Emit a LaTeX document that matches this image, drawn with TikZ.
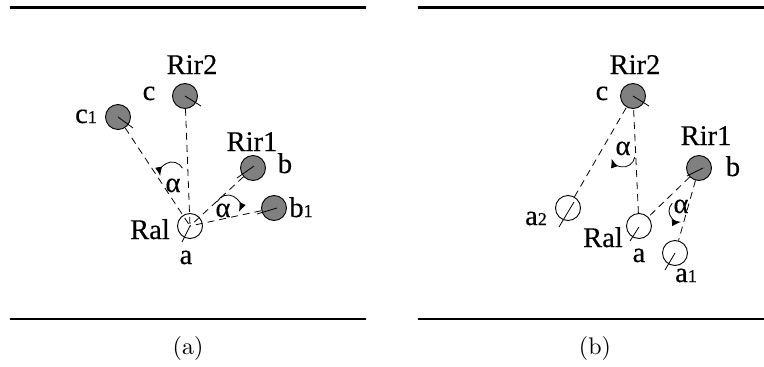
\documentclass[tikz,border=0pt]{standalone}
\usepackage{fontspec}
\usetikzlibrary{arrows.meta}
\newfontfamily\labfont[FakeBold=0.3]{Liberation Serif}
\newcommand{\subsz}[1]{{\fontsize{18}{18}\selectfont #1}}
\newcommand{\capsz}[1]{\scalebox{2.4}{\fontsize{10}{12}\selectfont #1}}
\begin{document}
\begin{tikzpicture}[x=1pt,y=-1pt,
  robot/.style={circle,draw,line width=0.9pt,minimum size=25pt,inner sep=0pt},
  irr/.style={robot,fill=black!50},
  alr/.style={robot,fill=white},
  lab/.style={font=\labfont\fontsize{28.5}{32}\selectfont,inner sep=0pt,anchor=base},
  captext/.style={inner sep=0pt,anchor=base},
  conn/.style={dash pattern=on 7pt off 5pt,line width=0.8pt},
  orient/.style={line width=0.8pt},
  angarc/.style={line width=0.8pt,-{Latex[length=9pt,width=7pt]}},
  rulebar/.style={line width=2.5pt}]
\useasboundingbox (0,0) rectangle (764,367);

% rules
\coordinate (tal) at (10,7.5);  \coordinate (tar) at (366,7.5);
\coordinate (bal) at (10,319);  \coordinate (bar) at (366,319);
\coordinate (tbl) at (418,7.5); \coordinate (tbr) at (764,7.5);
\coordinate (bbl) at (418,319); \coordinate (bbr) at (764,319);
\draw[rulebar] (tal) -- (tar);
\draw[rulebar] (bal) -- (bar);
\draw[rulebar] (tbl) -- (tbr);
\draw[rulebar] (bbl) -- (bbr);

% ---------- panel (a)
\node[irr] (c2a) at (185,96) {};
\node[irr] (c1a) at (118,117) {};
\node[irr] (b0a) at (253,168) {};
\node[irr] (b1a) at (274,208) {};
\node[alr] (ra) at (190,226) {};

\draw[conn] (c2a) -- (ra.center);
\draw[conn] (c1a) -- (ra.center);
\draw[conn] (b0a) -- (ra.center);
\draw[conn] (b1a) -- (ra.center);

\draw[orient] (c2a.center) -- ++(16,10);
\draw[orient] (c1a.center) -- ++(15,11);
\draw[orient] ([shift={(1,-2)}]b0a.center) -- ++(-17,12);
\draw[orient] ([shift={(3,0)}]b1a.center) -- ++(-20,6);
\draw[orient] (ra.center) -- ++(-8,16);

\draw[angarc] ([shift={(-29:12)}]172,174) arc (-29:-190:12);
\draw[angarc] ([shift={(-153:12)}]228,207) arc (-153:24:12);

\node[lab] (la1) at (173,192) {α};
\node[lab] (la2) at (223,217) {α};

\node[lab] (lrir2a) at (192,74) {Rir2};
\node[lab] (lca) at (149,100) {c};
\node[lab] (lc1a) at (86,123) {c\subsz{1}};
\node[lab] (lrir1a) at (252,151) {Rir1};
\node[lab] (lba) at (285,173) {b};
\node[lab] (lb1a) at (301,217) {b\subsz{1}};
\node[lab] (lrala) at (150,239) {Ral};
\node[lab] (laa) at (186,264) {a};

\node[captext] (capa) at (188,354) {\capsz{(a)}};

% ---------- panel (b)
\node[irr] (c2b) at (633,96) {};
\node[irr] (b0b) at (699,168) {};
\node[alr] (a2b) at (568,208) {};
\node[alr] (rb) at (639,226) {};
\node[alr] (a1b) at (675,253) {};

\draw[conn] (rb) -- (c2b);
\draw[conn] (a2b) -- (c2b);
\draw[conn] (b0b) -- (rb);
\draw[conn] (b0b) -- (a1b);

\draw[orient] (c2b.center) -- ++(16,10);
\draw[orient] ([shift={(4,0)}]b0b.center) -- ++(-16,8);
\draw[orient] ([shift={(6,-6)}]a2b.center) -- ++(-15,25);
\draw[orient] ([shift={(0,1)}]rb.center) -- ++(-9,14);
\draw[orient] (a1b.center) -- ++(-10,17);

\draw[angarc] ([shift={(10:12)}]623,155) arc (10:162:12);
\draw[angarc] ([shift={(225:11)}]680,211) arc (225:85:11);

\node[lab] (la3) at (623,155) {α};
\node[lab] (la4) at (681,213) {α};

\node[lab] (lrir2b) at (635,74) {Rir2};
\node[lab] (lcb) at (602,100) {c};
\node[lab] (lrir1b) at (706,145) {Rir1};
\node[lab] (lbb) at (733,176) {b};
\node[lab] (la2b) at (536,225) {a\subsz{2}};
\node[lab] (lralb) at (603,247) {Ral};
\node[lab] (lab2) at (639,262) {a};
\node[lab] (la1b) at (686,282) {a\subsz{1}};

\node[captext] (capb) at (595,354) {\capsz{(b)}};
\end{tikzpicture}
\end{document}
